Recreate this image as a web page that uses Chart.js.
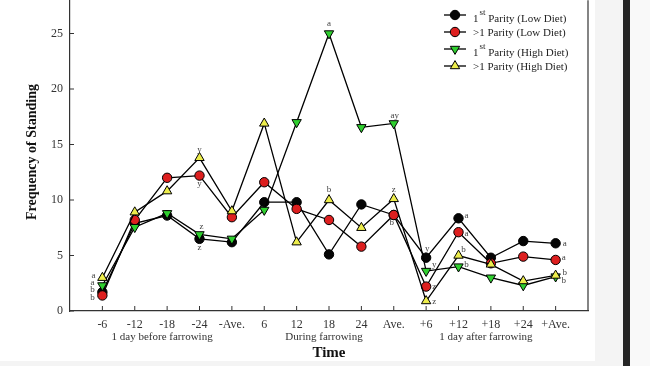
<!DOCTYPE html>
<html>
<head>
<meta charset="utf-8">
<script src="https://cdn.jsdelivr.net/npm/chart.js@4.4.1/dist/chart.umd.min.js"></script>
<style>
    html, body { margin: 0; padding: 0; background: #f4f4f4; }
    #page { position: relative; width: 650px; height: 366px; overflow: hidden; }
    #sheet { position: absolute; left: 0; top: 0; width: 595px; height: 361px; background: #fff; overflow: hidden; }
    #chart { position: absolute; left: 0; top: -14px; }
    #stripe { position: absolute; left: 623px; top: 0; width: 7px; height: 366px; background: #252525; }
    #edge { position: absolute; left: 630px; top: 0; width: 20px; height: 366px; background: #f9f9f9; }
</style>
</head>
<body>
<div id="page">
    <div id="sheet"><canvas id="chart" width="595" height="375"></canvas></div>
    <div id="stripe"></div>
    <div id="edge"></div>
</div>
<script>
// ═══════════════════════════════════════════
// Datos
// ═══════════════════════════════════════════
const categories = ['-6', '-12', '-18', '-24', '-Ave.', '6', '12', '18', '24', 'Ave.', '+6', '+12', '+18', '+24', '+Ave.'];
const groupLabels = ['1 day before farrowing', 'During farrowing', '1 day after farrowing'];
const yTicks = [0, 5, 10, 15, 20, 25];

const firstLow   = [1.7, 7.9, 8.6, 6.5, 6.2, 9.8, 9.8, 5.1, 9.6, 8.65, 4.8, 8.35, 4.8, 6.3, 6.1];
const laterLow   = [1.4, 8.2, 12.0, 12.2, 8.45, 11.6, 9.2, 8.2, 5.8, 8.65, 2.2, 7.1, 4.3, 4.9, 4.6];
const firstHigh  = [2.3, 7.55, 8.8, 6.9, 6.5, 9.1, 17.0, 25.0, 16.55, 16.9, 3.6, 4.0, 3.0, 2.3, 3.1];
const laterHigh  = [3.0, 8.9, 10.8, 13.8, 9.0, 16.9, 6.2, 10.0, 7.5, 10.1, 0.9, 5.0, 4.2, 2.7, 3.2];

// Letras de significancia: [texto, serie, categoría, dx, dy]
const letters = [
    ['a', 3, 0, -9, -2], ['a', 2, 0, -10, -3], ['b', 0, 0, -10, -2], ['b', 1, 0, -10, 2],
    ['y', 3, 3, 0, -8], ['y', 1, 3, 0, 8], ['z', 2, 3, 2, -8], ['z', 0, 3, 0, 9],
    ['a', 2, 7, 0, -10], ['b', 3, 7, 0, -10],
    ['ay', 2, 9, 1, -8], ['z', 3, 9, 0, -9], ['b', 1, 9, -2, 8],
    ['y', 0, 10, 1, -9], ['y', 2, 10, 8, -6], ['z', 1, 10, 8, 0], ['z', 3, 10, 8, 1],
    ['a', 0, 11, 8, -3], ['a', 1, 11, 8, 1], ['b', 3, 11, 5, -6], ['b', 2, 11, 8, -2],
    ['a', 0, 14, 9, 0], ['a', 1, 14, 8, -2], ['b', 2, 14, 9, -4], ['b', 3, 14, 8, 5]
];

const serif = "'Liberation Serif', 'DejaVu Serif', serif";
const topShift = 14; // el lienzo sube 14px para que el eje Y empiece en el borde
const series = [
    { label: ['1', 'st', ' Parity (Low Diet)'], data: firstLow, color: '#050505', style: 'circle', rot: 0, r: 4.7 },
    { label: ['>1 Parity (Low Diet)'], data: laterLow, color: '#dd1f1f', style: 'circle', rot: 0, r: 4.7 },
    { label: ['1', 'st', ' Parity (High Diet)'], data: firstHigh, color: '#2fcf2f', style: 'triangle', rot: 180, r: 5.4 },
    { label: ['>1 Parity (High Diet)'], data: laterHigh, color: '#eded4c', style: 'triangle', rot: 0, r: 5.4 }
];

// ═══════════════════════════════════════════
// Plugins de dibujo
// ═══════════════════════════════════════════
function drawMarker(ctx, s, x, y) {
    ctx.save();
    ctx.fillStyle = s.color;
    ctx.strokeStyle = '#000';
    ctx.lineWidth = 1;
    ctx.beginPath();
    if (s.style === 'circle') {
        ctx.arc(x, y, s.r, 0, Math.PI * 2);
    } else {
        const dir = s.rot === 180 ? -1 : 1;
        const r = s.r;
        ctx.moveTo(x, y - dir * r);
        ctx.lineTo(x - r * 0.866, y + dir * r * 0.5);
        ctx.lineTo(x + r * 0.866, y + dir * r * 0.5);
        ctx.closePath();
    }
    ctx.fill();
    ctx.stroke();
    ctx.restore();
}

const framePlugin = {
    id: 'frame',
    afterDraw(chart) {
        const ctx = chart.ctx;
        const area = chart.chartArea;
        const xs = chart.scales.x;
        const ys = chart.scales.y;

        ctx.save();
        ctx.strokeStyle = '#333';
        ctx.lineWidth = 1.2;

        // borde derecho
        ctx.beginPath();
        ctx.moveTo(area.right, area.top);
        ctx.lineTo(area.right, area.bottom);
        ctx.stroke();

        // marcas hacia dentro
        ctx.lineWidth = 1;
        for (let i = 1; i <= categories.length; i++) {
            const x = xs.getPixelForTick(i);
            ctx.beginPath();
            ctx.moveTo(x, area.bottom);
            ctx.lineTo(x, area.bottom - 5);
            ctx.stroke();
        }
        yTicks.forEach(v => {
            const y = ys.getPixelForValue(v);
            ctx.beginPath();
            ctx.moveTo(area.left, y);
            ctx.lineTo(area.left + 4, y);
            ctx.stroke();
        });

        // letras
        ctx.fillStyle = '#444';
        ctx.font = '9px ' + serif;
        ctx.textAlign = 'center';
        ctx.textBaseline = 'middle';
        letters.forEach(([t, si, ci, dx, dy]) => {
            const x = xs.getPixelForValue(ci + 1) + dx;
            const y = ys.getPixelForValue(series[si].data[ci]) + dy;
            ctx.fillText(t, x, y);
        });

        // desde aquí, coordenadas de la página
        ctx.translate(0, topShift);

        // grupos del eje X
        ctx.fillStyle = '#333';
        ctx.font = '11px ' + serif;
        groupLabels.forEach((g, k) => {
            const x = xs.getPixelForValue(3 + k * 5) - 5;
            ctx.fillText(g, x, 337);
        });

        // títulos de ejes
        ctx.fillStyle = '#111';
        ctx.font = 'bold 15px ' + serif;
        ctx.fillText('Time', (area.left + area.right) / 2, 353);

        ctx.save();
        ctx.translate(32, 152);
        ctx.rotate(-Math.PI / 2);
        ctx.font = 'bold 14px ' + serif;
        ctx.fillText('Frequency of Standing', 0, 0);
        ctx.restore();

        // leyenda
        const rows = [15, 32, 49, 66];
        const shift = [4, 1, 4, 1];
        series.forEach((s, k) => {
            const y = rows[k];
            ctx.strokeStyle = '#000';
            ctx.lineWidth = 1.3;
            ctx.beginPath();
            ctx.moveTo(444, y);
            ctx.lineTo(466, y);
            ctx.stroke();
            drawMarker(ctx, s, 455, y);

            ctx.fillStyle = '#222';
            ctx.textAlign = 'left';
            let x = 473;
            const ty = y + shift[k];
            if (s.label.length === 3) {
                ctx.font = '11px ' + serif;
                ctx.fillText(s.label[0], x, ty);
                x += ctx.measureText(s.label[0]).width + 1;
                ctx.font = '9px ' + serif;
                ctx.fillText(s.label[1], x, ty - 6);
                x += ctx.measureText(s.label[1]).width;
                ctx.font = '11px ' + serif;
                ctx.fillText(s.label[2], x, ty);
            } else {
                ctx.font = '11px ' + serif;
                ctx.fillText(s.label[0], x, ty);
            }
        });
        ctx.restore();
    }
};

// ═══════════════════════════════════════════
// Gráfica
// ═══════════════════════════════════════════
const axisLabels = [''].concat(categories, ['']);
const pad = arr => [null].concat(arr, [null]);

new Chart(document.getElementById('chart').getContext('2d'), {
    type: 'line',
    data: {
        labels: axisLabels,
        datasets: series.map((s, k) => ({
            label: s.label.join(''),
            data: pad(s.data),
            borderColor: '#000',
            borderWidth: 1.3,
            backgroundColor: s.color,
            pointBackgroundColor: s.color,
            pointBorderColor: '#000',
            pointBorderWidth: 1,
            pointStyle: s.style,
            pointRotation: s.rot,
            pointRadius: s.r,
            tension: 0,
            fill: false,
            order: series.length - k
        }))
    },
    options: {
        responsive: false,
        animation: false,
        events: [],
        layout: { padding: { left: 8, right: 7, top: 0, bottom: 0 } },
        plugins: {
            legend: { display: false },
            tooltip: { enabled: false }
        },
        scales: {
            x: {
                type: 'category',
                offset: false,
                afterFit(scale) { scale.height = 50; },
                grid: { drawOnChartArea: false, drawTicks: false },
                border: { color: '#333', width: 1.2 },
                ticks: {
                    autoSkip: false,
                    maxRotation: 0,
                    padding: 7,
                    color: '#333',
                    font: { family: serif, size: 12 }
                }
            },
            y: {
                min: 0,
                max: 28,
                afterBuildTicks(scale) {
                    scale.ticks = yTicks.map(v => ({ value: v }));
                },
                afterFit(scale) { scale.width = 62; },
                grid: { drawOnChartArea: false, drawTicks: false },
                border: { color: '#333', width: 1.2 },
                ticks: {
                    padding: 7,
                    color: '#333',
                    font: { family: serif, size: 12 }
                }
            }
        }
    },
    plugins: [framePlugin]
});
</script>
</body>
</html>
